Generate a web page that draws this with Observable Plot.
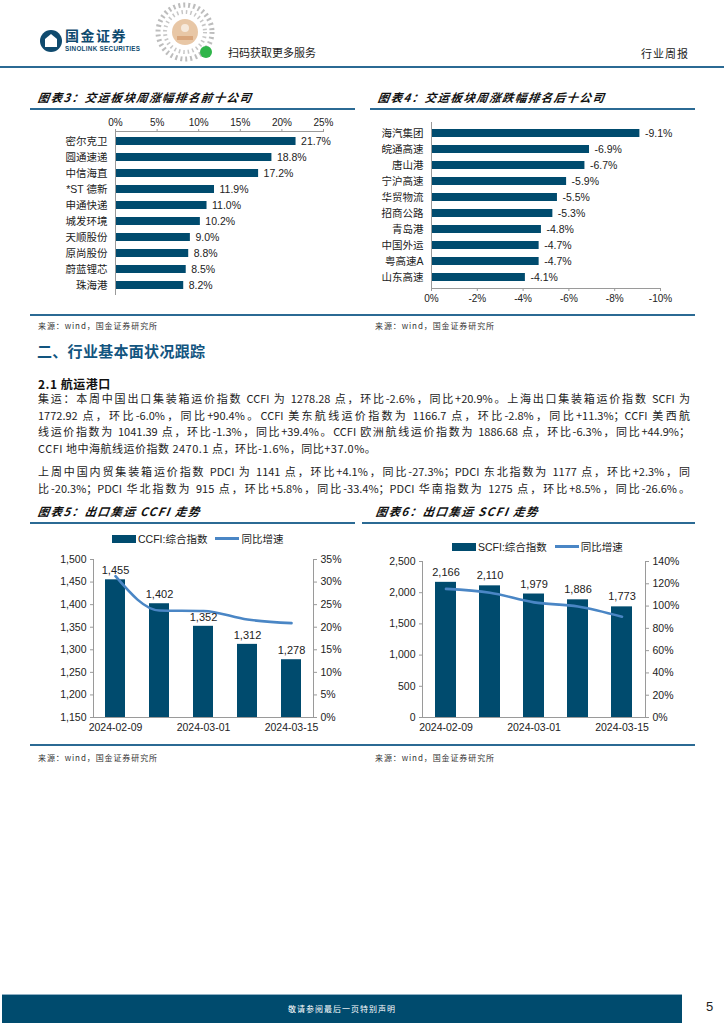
<!DOCTYPE html>
<html><head><meta charset="utf-8">
<script src="https://cdn.jsdelivr.net/npm/d3@7"></script>
<script src="https://cdn.jsdelivr.net/npm/@observablehq/plot@0.6"></script>
<style>
body{margin:0;background:#fff;width:724px;height:1024px;position:relative;overflow:hidden;font-family:"Liberation Sans","Noto Sans CJK SC",sans-serif;color:#222}
.abs{position:absolute}
.ctitle{font-family:"Noto Sans CJK SC";font-weight:bold;font-style:italic;font-size:11.5px;letter-spacing:1.4px;color:#111;white-space:nowrap;transform:skewX(-8deg)}
.rule{position:absolute;height:1.5px;background:#2b6a94}
.src{font-family:"Noto Sans CJK SC";font-size:8px;letter-spacing:0.9px;color:#333;white-space:nowrap}
.para{position:absolute;left:38px;width:652px;font-family:"Noto Sans CJK SC";font-size:11px;color:#222;text-align:justify;text-align-last:justify;white-space:nowrap;line-height:14px}
.para.last{text-align-last:left;letter-spacing:0.5px}
.leg{position:absolute;font-size:10.5px;font-family:"Liberation Sans","Noto Sans CJK SC";color:#222;display:flex;align-items:center;white-space:nowrap}
.sw{display:inline-block;margin-right:2px}
</style></head>
<body>
<script>
// ---------- data ----------
const top10Names = ["密尔克卫","圆通速递","中信海直","*ST 德新","申通快递","城发环境","天顺股份","原尚股份","蔚蓝锂芯","珠海港"];
const top10Values = [21.7,18.8,17.2,11.9,11.0,10.2,9.0,8.8,8.5,8.2];
const top10Ticks = [0,5,10,15,20,25];
const bottom10Names = ["海汽集团","皖通高速","唐山港","宁沪高速","华贸物流","招商公路","青岛港","中国外运","粤高速A","山东高速"];
const bottom10Values = [-9.1,-6.9,-6.7,-5.9,-5.5,-5.3,-4.8,-4.7,-4.7,-4.1];
const bottom10Ticks = [0,-2,-4,-6,-8,-10];
const weeks = ["2024-02-09","2024-02-23","2024-03-01","2024-03-08","2024-03-15"];
const weekLabels = ["2024-02-09","","2024-03-01","","2024-03-15"];
const ccfiIndex = [1455,1402,1352,1312,1278];
const ccfiYoY = [31.3,23.7,23.6,21.7,20.9];
const ccfiLeftTicks = [1150,1200,1250,1300,1350,1400,1450,1500];
const ccfiRightTicks = [0,5,10,15,20,25,30,35];
const scfiIndex = [2166,2110,1979,1886,1773];
const scfiYoY = [115.4,112.0,103.3,99.6,90.4];
const scfiLeftTicks = [0,500,1000,1500,2000,2500];
const scfiRightTicks = [0,20,40,60,80,100,120,140];

const BAR = "#004b6e", LINE = "#4a86c5", AX = "#9a9a9a";
const fontStyle = {fontFamily:'"Liberation Sans","Noto Sans CJK SC",sans-serif', fontSize:"10px", color:"#222", background:"transparent"};

function place(el, left, top){ el.style.position="absolute"; el.style.left=left+"px"; el.style.top=top+"px"; document.body.appendChild(el); }
function div(cls, html, left, top, extra){ const d=document.createElement("div"); d.className=cls; d.innerHTML=html; d.style.position="absolute"; d.style.left=left+"px"; d.style.top=top+"px"; if(extra) Object.assign(d.style, extra); document.body.appendChild(d); return d; }

// ---------- header ----------
const hdr = document.createElement("div");
hdr.innerHTML = `<svg width="724" height="70" xmlns="http://www.w3.org/2000/svg">
 <circle cx="51" cy="41" r="11" fill="#0f4a6e"/>
 <path d="M45 47 L45 39 L51 34 L57 39 L57 47 Z" fill="#fff"/>
 <g opacity="0.55">
  <circle cx="185" cy="32" r="27" fill="none" stroke="#888" stroke-width="5" stroke-dasharray="2 3"/>
  <circle cx="185" cy="32" r="20" fill="none" stroke="#999" stroke-width="4" stroke-dasharray="1.5 3"/>
 </g>
 <circle cx="185" cy="32" r="13" fill="#e8c7a6"/>
 <circle cx="185" cy="28" r="4" fill="#fff" opacity="0.6"/>
 <rect x="177" y="36" width="16" height="4" fill="#d9a67c"/>
 <circle cx="206" cy="52" r="6" fill="#2fb54a"/>
</svg>`;
place(hdr, 0, 0);
div("", "国金证券", 65, 27, {fontFamily:'"Noto Sans CJK SC"', fontWeight:"bold", fontSize:"14px", lineHeight:"16px", color:"#0f4a6e", letterSpacing:"1.5px"});
div("", "SINOLINK SECURITIES", 65, 45, {fontFamily:'"Liberation Sans"', fontWeight:"bold", fontSize:"6.3px", lineHeight:"7px", color:"#0f4a6e", letterSpacing:"0.3px"});
div("", "扫码获取更多服务", 228, 44, {fontFamily:'"Noto Sans CJK SC"', fontSize:"11px", color:"#222"});
div("", "行业周报", 641, 45, {fontFamily:'"Noto Sans CJK SC"', fontSize:"11px", color:"#222", letterSpacing:"1px"});
div("rule", "", 0, 66, {width:"724px"});

// ---------- chart 3 & 4 titles ----------
div("ctitle", "图表3：交运板块周涨幅排名前十公司", 38, 89);
div("rule", "", 30, 108, {width:"325px"});
div("ctitle", "图表4：交运板块周涨跌幅排名后十公司", 378, 89);
div("rule", "", 370, 108, {width:"325px"});

// ---------- chart 3 ----------
const top10 = top10Names.map((n,i)=>({n, v: top10Values[i]}));
const c3 = Plot.plot({
  width: 325, height: 185, marginLeft: 85, marginRight: 32, marginTop: 21, marginBottom: 0,
  style: fontStyle,
  x: {domain:[0,25], axis:null},
  y: {domain: top10Names, paddingInner: 0.5, paddingOuter: 0.25, axis:null},
  marks: [
    Plot.barX(top10, {x:"v", y:"n", fill: BAR}),
    Plot.text(top10, {x:"v", y:"n", text: d=>d.v.toFixed(1)+"%", dx:5, textAnchor:"start", fontSize:10.5}),
    Plot.axisX({anchor:"top", ticks: top10Ticks, tickFormat: d=>d+"%", tickSize:3, tickPadding:3, stroke: AX, fontSize:10, label:null}),
    Plot.frame({anchor:"top", stroke: AX}),
    Plot.frame({anchor:"left", stroke: AX}),
    Plot.axisY({anchor:"left", tickSize:0, tickPadding:8, fontSize:10.5, label:null})
  ]
});
place(c3, 30, 110);

// ---------- chart 4 ----------
const bot10 = bottom10Names.map((n,i)=>({n, v: bottom10Values[i]}));
const c4 = Plot.plot({
  width: 325, height: 196, marginLeft: 61, marginRight: 35, marginTop: 10, marginBottom: 20,
  style: fontStyle,
  x: {domain:[0,-10], axis:null},
  y: {domain: bottom10Names, paddingInner: 0.5, paddingOuter: 0.25, axis:null},
  marks: [
    Plot.barX(bot10, {x:"v", y:"n", fill: BAR}),
    Plot.text(bot10, {x:"v", y:"n", text: d=>d.v.toFixed(1)+"%", dx:5, textAnchor:"start", fontSize:10.5}),
    Plot.axisX({anchor:"bottom", ticks: bottom10Ticks, tickFormat: d=>d+"%", tickSize:3, tickPadding:3, stroke: AX, fontSize:10, label:null}),
    Plot.frame({anchor:"bottom", stroke: AX}),
    Plot.frame({anchor:"left", stroke: AX}),
    Plot.axisY({anchor:"left", tickSize:0, tickPadding:8, fontSize:10.5, label:null})
  ]
});
place(c4, 370, 112);

div("rule", "", 30, 314, {width:"665px"});
div("src", "来源：wind，国金证券研究所", 38, 320);
div("src", "来源：wind，国金证券研究所", 375, 320);

// ---------- text section ----------
div("", "二、行业基本面状况跟踪", 37, 340, {fontFamily:'"Noto Sans CJK SC"', fontWeight:"bold", fontSize:"15px", color:"#12557f", letterSpacing:"0.3px"});
div("", "2.1 航运港口", 38, 375, {fontFamily:'"Noto Sans CJK SC"', fontWeight:"bold", fontSize:"12px", color:"#111", letterSpacing:"0.5px"});
const paraLines = [
 ["集运：本周中国出口集装箱运价指数 CCFI 为 1278.28 点，环比-2.6%，同比+20.9%。上海出口集装箱运价指数 SCFI 为", 391, false],
 ["1772.92 点，环比-6.0%，同比+90.4%。CCFI 美东航线运价指数为 1166.7 点，环比-2.8%，同比+11.3%；CCFI 美西航", 407.5, false],
 ["线运价指数为 1041.39 点，环比-1.3%，同比+39.4%。CCFI 欧洲航线运价指数为 1886.68 点，环比-6.3%，同比+44.9%；", 424, false],
 ["CCFI 地中海航线运价指数 2470.1 点，环比-1.6%，同比+37.0%。", 440.5, true],
 ["上周中国内贸集装箱运价指数 PDCI 为 1141 点，环比+4.1%，同比-27.3%；PDCI 东北指数为 1177 点，环比+2.3%，同", 464, false],
 ["比-20.3%；PDCI 华北指数为 915 点，环比+5.8%，同比-33.4%；PDCI 华南指数为 1275 点，环比+8.5%，同比-26.6%。", 480.5, false]
];
paraLines.forEach(([t,y,last])=>{ div("para"+(last?" last":""), t, 38, y); });

// ---------- chart 5 & 6 titles ----------
div("ctitle", "图表5：出口集运 CCFI 走势", 38, 503);
div("rule", "", 30, 522, {width:"325px"});
div("ctitle", "图表6：出口集运 SCFI 走势", 376, 503);
div("rule", "", 362, 522, {width:"333px"});

function legend(left, top, name){
  div("leg", `<span class="sw" style="width:24px;height:8px;background:${BAR}"></span>${name}<span class="sw" style="width:24px;height:3px;background:${LINE};margin-left:8px"></span>同比增速`, left, top);
}
legend(112, 531, "CCFI:综合指数");
legend(452, 539, "SCFI:综合指数");

// ---------- chart 5 ----------
const ccfi = weeks.map((w,i)=>({w, v: ccfiIndex[i], y: ccfiYoY[i]}));
const ccfiMap = p => 1150 + p/35*350;
const c5 = Plot.plot({
  width: 325, height: 195, marginLeft: 63, marginRight: 42, marginTop: 9, marginBottom: 28,
  style: fontStyle,
  x: {domain: weeks, paddingInner: 0.545, paddingOuter: 0.27, axis:null},
  y: {domain:[1150,1500], axis:null},
  marks: [
    Plot.barY(ccfi, {x:"w", y1:1150, y2:"v", fill: BAR}),
    Plot.line(ccfi, {x:"w", y: d=>ccfiMap(d.y), stroke: LINE, strokeWidth:2.6, curve:"monotone-x"}),
    Plot.text(ccfi, {x:"w", y:"v", text: d=>d3.format(",")(d.v), dy:-9, fontSize:11}),
    Plot.axisY({anchor:"left", ticks: ccfiLeftTicks, tickFormat: d3.format(","), tickSize:3, tickPadding:4, stroke: AX, fontSize:10.5, label:null}),
    Plot.axisY({anchor:"right", ticks: ccfiRightTicks.map(ccfiMap), tickFormat: d=>Math.round((d-1150)/10)+"%", tickSize:3, tickPadding:4, stroke: AX, fontSize:10.5, label:null}),
    Plot.axisX({anchor:"bottom", tickFormat:(d,i)=>weekLabels[i], tickSize:0, tickPadding:6, fontSize:10.5, label:null}),
    Plot.frame({anchor:"left", stroke: AX}),
    Plot.frame({anchor:"right", stroke: AX}),
    Plot.frame({anchor:"bottom", stroke: AX})
  ]
});
place(c5, 30, 550);

// ---------- chart 6 ----------
const scfi = weeks.map((w,i)=>({w, v: scfiIndex[i], y: scfiYoY[i]}));
const scfiMap = p => p/140*2500;
const c6 = Plot.plot({
  width: 340, height: 195, marginLeft: 60, marginRight: 57, marginTop: 11, marginBottom: 28,
  style: fontStyle,
  x: {domain: weeks, paddingInner: 0.53, paddingOuter: 0.265, axis:null},
  y: {domain:[0,2500], axis:null},
  marks: [
    Plot.barY(scfi, {x:"w", y:"v", fill: BAR}),
    Plot.line(scfi, {x:"w", y: d=>scfiMap(d.y), stroke: LINE, strokeWidth:2.6, curve:"monotone-x"}),
    Plot.text(scfi, {x:"w", y:"v", text: d=>d3.format(",")(d.v), dy:-10, fontSize:11}),
    Plot.axisY({anchor:"left", ticks: scfiLeftTicks, tickFormat: d3.format(","), tickSize:3, tickPadding:4, stroke: AX, fontSize:10.5, label:null}),
    Plot.axisY({anchor:"right", ticks: scfiRightTicks.map(scfiMap), tickFormat: d=>Math.round(d/2500*140)+"%", tickSize:3, tickPadding:4, stroke: AX, fontSize:10.5, label:null}),
    Plot.axisX({anchor:"bottom", tickFormat:(d,i)=>weekLabels[i], tickSize:0, tickPadding:6, fontSize:10.5, label:null}),
    Plot.frame({anchor:"left", stroke: AX}),
    Plot.frame({anchor:"right", stroke: AX}),
    Plot.frame({anchor:"bottom", stroke: AX})
  ]
});
place(c6, 362, 550);

div("rule", "", 30, 744, {width:"665px"});
div("src", "来源：wind，国金证券研究所", 38, 752);
div("src", "来源：wind，国金证券研究所", 375, 752);

// ---------- footer ----------
div("", "", 2, 994, {width:"680px", height:"28px", background:"#004b6e", borderTop:"1px solid #8fb0c4"});
div("", "敬请参阅最后一页特别声明", 2, 1003, {width:"680px", textAlign:"center", fontFamily:'"Noto Sans CJK SC"', fontSize:"8px", color:"#fff", letterSpacing:"1px"});
div("", "5", 706, 999, {fontFamily:'"Liberation Sans"', fontSize:"13px", color:"#222"});
</script>
</body></html>
